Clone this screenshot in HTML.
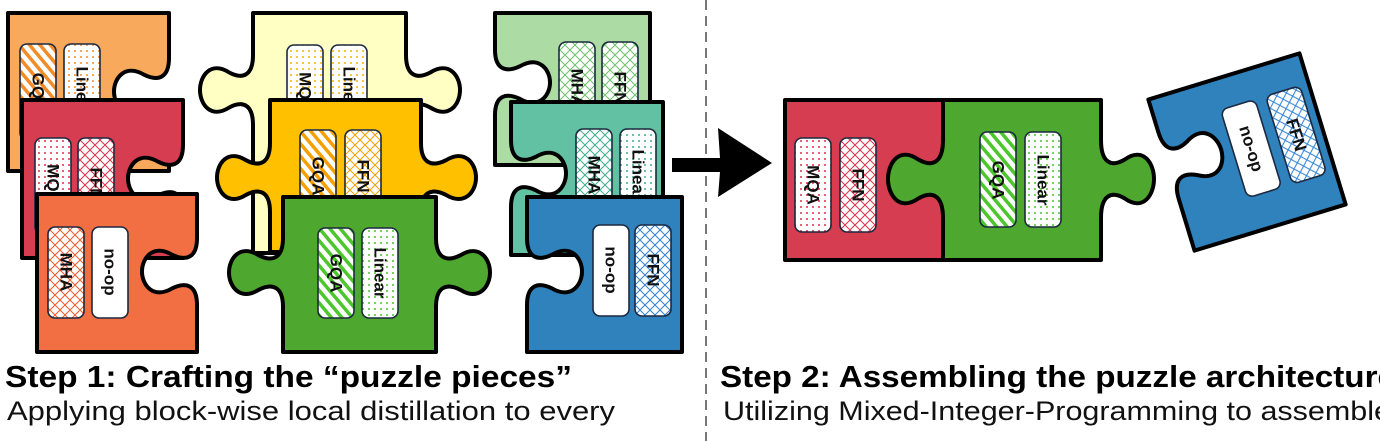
<!DOCTYPE html>
<html><head><meta charset="utf-8"><style>
html,body{margin:0;padding:0;background:#fff;}
svg{display:block;}
.lb{font-family:"Liberation Sans",sans-serif;font-weight:bold;font-size:17px;fill:#111;}
.h{font-family:"Liberation Sans",sans-serif;font-weight:bold;font-size:31px;fill:#000;}
.t{font-family:"Liberation Sans",sans-serif;font-size:27px;fill:#111;}
</style></head><body>
<svg id="s" width="1380" height="441" viewBox="0 0 1380 441" xmlns="http://www.w3.org/2000/svg">
<defs id="defs"></defs>
<line x1="706" y1="0" x2="706" y2="441" stroke="#777" stroke-width="2" stroke-dasharray="10 6"/>

<g id="p1"><text class="lb" transform="translate(38,92) rotate(90)" text-anchor="middle" dominant-baseline="central">GQA</text><text class="lb" transform="translate(82,92) rotate(90)" text-anchor="middle" dominant-baseline="central">Linear</text></g>
<g id="p2"><text class="lb" transform="translate(53,184) rotate(90)" text-anchor="middle" dominant-baseline="central">MQA</text><text class="lb" transform="translate(96,184) rotate(90)" text-anchor="middle" dominant-baseline="central">FFN</text></g>
<g id="p3"><text class="lb" transform="translate(66,272) rotate(90)" text-anchor="middle" dominant-baseline="central">MHA</text><text class="lb" transform="translate(110,272) rotate(90)" text-anchor="middle" dominant-baseline="central">no-op</text></g>

<g id="p4"><text class="lb" transform="translate(305,92) rotate(90)" text-anchor="middle" dominant-baseline="central">MQA</text><text class="lb" transform="translate(349,92) rotate(90)" text-anchor="middle" dominant-baseline="central">Linear</text></g>
<g id="p5"><text class="lb" transform="translate(318,176) rotate(90)" text-anchor="middle" dominant-baseline="central">GQA</text><text class="lb" transform="translate(363,176) rotate(90)" text-anchor="middle" dominant-baseline="central">FFN</text></g>
<g id="p6"><text class="lb" transform="translate(336,273) rotate(90)" text-anchor="middle" dominant-baseline="central">GQA</text><text class="lb" transform="translate(380,273) rotate(90)" text-anchor="middle" dominant-baseline="central">Linear</text></g>

<g id="p7"><text class="lb" transform="translate(577,88) rotate(90)" text-anchor="middle" dominant-baseline="central">MHA</text><text class="lb" transform="translate(620,88) rotate(90)" text-anchor="middle" dominant-baseline="central">FFN</text></g>
<g id="p8"><text class="lb" transform="translate(594,175) rotate(90)" text-anchor="middle" dominant-baseline="central">MHA</text><text class="lb" transform="translate(638,175) rotate(90)" text-anchor="middle" dominant-baseline="central">Linear</text></g>
<g id="p9"><text class="lb" transform="translate(611,270) rotate(90)" text-anchor="middle" dominant-baseline="central">no-op</text><text class="lb" transform="translate(653,270) rotate(90)" text-anchor="middle" dominant-baseline="central">FFN</text></g>

<polygon points="672,158 720,158 718,128 772,163 718,197 720,172 672,172" fill="#000"/>

<g id="a1"><text class="lb" transform="translate(813,185) rotate(90)" text-anchor="middle" dominant-baseline="central">MQA</text><text class="lb" transform="translate(858,185) rotate(90)" text-anchor="middle" dominant-baseline="central">FFN</text></g>
<g id="a2"><text class="lb" transform="translate(998,180) rotate(90)" text-anchor="middle" dominant-baseline="central">GQA</text><text class="lb" transform="translate(1043,180) rotate(90)" text-anchor="middle" dominant-baseline="central">Linear</text></g>
<g transform="translate(1247,152) rotate(-17)"><g id="a3"><text class="lb" transform="translate(5,-2) rotate(90)" text-anchor="middle" dominant-baseline="central">no-op</text><text class="lb" transform="translate(52,-2) rotate(90)" text-anchor="middle" dominant-baseline="central">FFN</text></g></g>

<text class="h" x="5" y="387" textLength="567" lengthAdjust="spacingAndGlyphs">Step 1: Crafting the “puzzle pieces”</text>
<text class="t" x="7" y="420" textLength="608" lengthAdjust="spacingAndGlyphs">Applying block-wise local distillation to every</text>
<text class="h" x="720" y="387" textLength="676" lengthAdjust="spacingAndGlyphs">Step 2: Assembling the puzzle architecture</text>
<text class="t" x="723" y="420" textLength="668" lengthAdjust="spacingAndGlyphs">Utilizing Mixed-Integer-Programming to assemble</text>
</svg>
<script>
var NS="http://www.w3.org/2000/svg";
function kn(ax,ay,bx,by,D,s){
 var L=Math.hypot(bx-ax,by-ay),ux=(bx-ax)/L,uy=(by-ay)/L,nx=uy*s,ny=-ux*s;
 function P(t,d){return (ax+ux*t*L+nx*d*D).toFixed(1)+","+(ay+uy*t*L+ny*d*D).toFixed(1);}
 return " L"+P(0,0)+" C"+P(.3,0)+" "+P(.35,.2)+" "+P(.25,.45)+" C"+P(.08,.8)+" "+P(.3,1)+" "+P(.5,1)+" C"+P(.7,1)+" "+P(.92,.8)+" "+P(.75,.45)+" C"+P(.65,.2)+" "+P(.7,0)+" "+P(1,0);
}
function piece(x,y,w,h,L,R){
 var d="M"+x+","+y+" H"+(x+w);
 if(R) d+=kn(x+w,R[0],x+w,R[1],R[2],R[3]);
 d+=" L"+(x+w)+","+(y+h)+" H"+x;
 if(L) d+=kn(x,L[1],x,L[0],L[2],L[3]);
 return d+" Z";
}
var defs=document.getElementById("defs"),pid=0;
function pat(type,col){
 var id="pt"+(pid++),p=document.createElementNS(NS,"pattern");
 p.setAttribute("id",id);p.setAttribute("patternUnits","userSpaceOnUse");
 var inner="";
 if(type=="s"){p.setAttribute("width",8);p.setAttribute("height",8);p.setAttribute("patternTransform","rotate(-40)");inner='<rect width="8" height="8" fill="#fff"/><rect width="3.5" height="8" fill="'+col+'"/>';}
 else if(type=="d"){p.setAttribute("width",6);p.setAttribute("height",6);inner='<rect width="6" height="6" fill="#fff"/><circle cx="3" cy="3" r="1" fill="'+col+'"/>';}
 else {p.setAttribute("width",10);p.setAttribute("height",10);inner='<rect width="10" height="10" fill="#fff"/><path d="M0,0 L10,10 M10,0 L0,10" stroke="'+col+'" stroke-width="1"/>';}
 p.innerHTML=inner;defs.appendChild(p);return "url(#"+id+")";
}
function build(gid,d,fill,boxes,pc){
 var g=document.getElementById(gid);
 var first=g.firstChild;
 var path=document.createElementNS(NS,"path");
 path.setAttribute("d",d);path.setAttribute("fill",fill);path.setAttribute("stroke","#000");path.setAttribute("stroke-width","4");path.setAttribute("stroke-linejoin","round");
 g.insertBefore(path,first);
 boxes.forEach(function(b){
  var r=document.createElementNS(NS,"rect");
  r.setAttribute("x",b[0]);r.setAttribute("y",b[1]);r.setAttribute("width",36);r.setAttribute("height",b[2]);
  r.setAttribute("rx",7);r.setAttribute("fill",b[3]=="w"?"#fff":pat(b[3],pc));
  r.setAttribute("stroke","#1c2940");r.setAttribute("stroke-width","1.6");
  g.insertBefore(r,first);
 });
}
build("p1",piece(8,13,161,158,null,[58,125,55,-1]),"#f8a95c",[[20,44,96,"s"],[64,44,96,"d"]],"#f28c28");
build("p2",piece(22,100,161,158,null,[145,212,55,-1]),"#d63d50",[[35,138,96,"d"],[78,138,96,"c"]],"#e0304a");
build("p3",piece(37,194,160,158,null,[238,305,55,-1]),"#f26e43",[[48,227,91,"c"],[92,227,91,"w"]],"#f25a2a");
build("p4",piece(253,13,153,240,[55,125,53,1],[55,125,54,1]),"#ffffc3",[[287,45,95,"d"],[331,45,95,"d"]],"#f5b400");
build("p5",piece(270,100,151,152,[143,212,53,1],[143,212,55,1]),"#ffc000",[[300,130,92,"s"],[345,130,92,"c"]],"#f5a000");
build("p6",piece(283,197,153,155,[238,307,54,1],[238,307,54,1]),"#4ea72e",[[318,228,90,"s"],[362,228,90,"d"]],"#4cc62c");
build("p7",piece(495,13,155,152,[50,115,55,-1],null),"#acdca3",[[559,42,92,"c"],[602,42,92,"c"]],"#6cc06a");
build("p8",piece(511,102,152,153,[140,207,55,-1],null),"#62c0a3",[[576,129,92,"c"],[620,129,92,"d"]],"#3eae8c");
build("p9",piece(527,197,155,155,[238,305,55,-1],null),"#2f82bc",[[593,225,91,"w"],[635,225,91,"c"]],"#2f82d6");
build("a1",piece(785,100,158,160,null,null),"#d63d50",[[795,138,94,"d"],[840,138,94,"c"]],"#e0304a");
build("a2",piece(943,100,158,160,[140,218,55,1],[140,218,53,1]),"#4ea72e",[[980,132,95,"s"],[1025,132,95,"d"]],"#4cc62c");
build("a3",piece(-79,-79,158,158,[-45,25,55,-1],null),"#2f82bc",[[-13,-48,92,"w"],[34,-48,92,"c"]],"#2f82d6");
</script>
</body></html>
